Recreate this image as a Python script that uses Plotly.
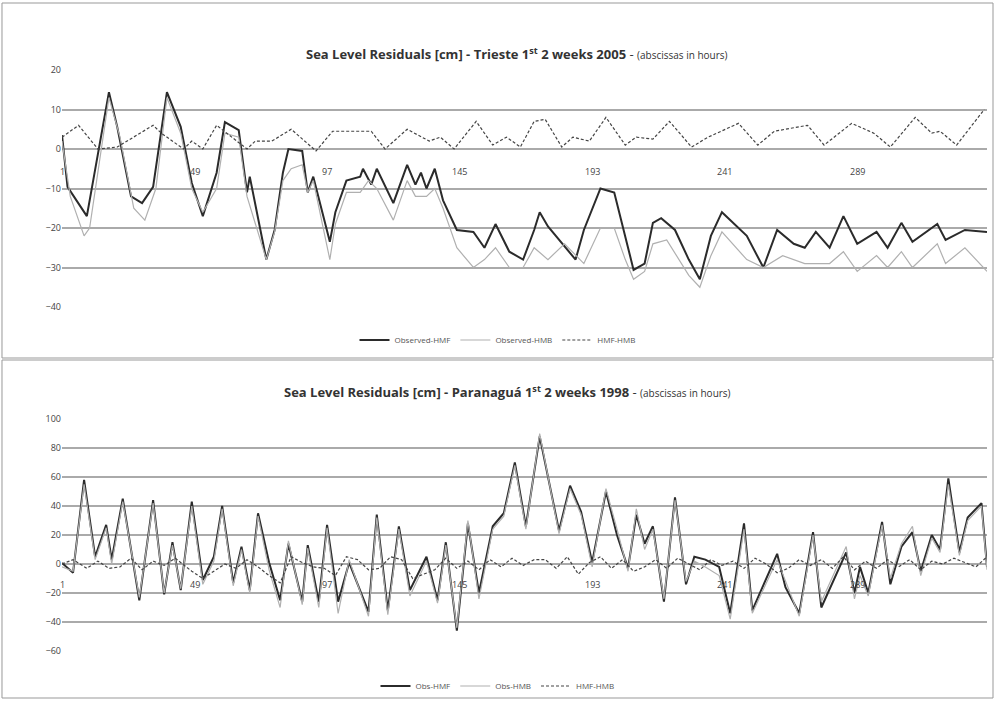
import plotly.graph_objects as go

# ---------- Top: Trieste 2005 ----------
t_hmf_h = [1,3,10,18,21,26,30,34,39,44,48,52,57,60,65,68,69,75,78,81,83,88,90,92,98,100,104,109,110,113,115,121,126,129,131,133,136,139,144,150,154,158,163,168,172,174,177,187,190,196,201,205,208,212,215,218,223,228,232,236,240,249,255,260,266,270,274,279,284,289,296,300,305,309,318,321,328,336]
t_hmf_v = [3.5,-9.6,-17,14.4,5.6,-12,-13.7,-9.6,14.4,5.6,-8.6,-17,-6,6.8,4.8,-11,-7,-28,-20.5,-6,0,-0.5,-11,-7,-23.5,-16,-8,-7,-5,-9,-5,-13.7,-4,-9,-6,-10,-5,-13,-20.5,-21,-25,-19,-26,-28,-20.5,-16,-19.6,-28,-20.5,-10,-11,-22,-30.6,-29,-18.7,-17.5,-20.5,-28,-33,-22,-16,-22,-30,-20.5,-24,-25,-21,-25,-17,-24,-21,-25,-18.7,-23.5,-19,-23,-20.5,-21]
t_hmb_h = [1,4,9,11,18,22,27,31,35,39,44,48,52,57,60,65,68,75,78,81,84,88,90,92,98,100,104,109,112,115,121,126,129,133,136,139,144,150,154,158,163,168,172,177,183,190,196,201,205,208,212,215,220,228,232,236,240,249,255,262,270,279,284,289,296,300,305,309,318,321,328,336]
t_hmb_v = [2,-12,-22,-20,13,3,-15,-18,-10,13,4,-10,-16,-10,4,3,-12,-28,-21,-8,-5,-4,-11,-8,-28,-19,-11,-11,-8,-10,-18,-8,-12,-12,-10,-15,-25,-30,-28,-25,-30,-30,-25,-28,-24,-29,-20,-20,-28,-33,-31,-24,-23,-32,-35,-27,-21,-28,-30,-27,-29,-29,-26,-31,-27,-30,-26,-30,-24,-29,-25,-31]
t_diff_h = [1,7,14,21,34,37,45,48,52,57,68,71,77,84,93,99,113,118,126,134,138,143,151,157,162,167,172,176,182,186,192,198,205,209,215,221,229,235,246,253,259,271,277,287,295,301,310,316,319,325,335]
t_diff_v = [3,6,0,0.5,6,4,0,2,0,6,0,2,2,5,-0.5,4.5,4.5,0,5,2,3,0,7,1,3,0.5,7,7.5,0.5,3,2,8,1,3,2.5,7,0.5,3,6.5,1,4.5,6,1,6.5,4,0.5,8,4,4.5,1,10]
t_ticks = [-40,-30,-20,-10,0,10,20]

# ---------- Bottom: Paranaguá 1998 ----------
b_hmf_h = [1,5,9,13,17,19,23,29,34,38,41,44,48,52,56,59,63,66,69,72,76,80,83,88,90,94,97,101,105,112,115,119,123,127,133,137,140,144,148,152,157,161,165,169,174,181,185,189,193,198,202,206,209,212,215,219,223,227,230,234,239,243,248,251,260,263,268,273,276,285,288,290,293,298,301,305,309,312,316,319,322,326,329,334,336]
b_hmf_v = [0.7,-6,58,5,27,3,45,-25,44,-21,15,-18,43,-11,5,40,-13,12,-18,35,1,-25,14,-26,13,-26,27,-26,1,-33,34,-32,26,-18,5,-25,15,-46,28,-20,26,35,70,26,88,23,54,36,1,50,20,-3,34,14,26,-26,46,-14,5,3,-2,-34,28,-32,7,-16,-34,22,-30,8,-20,-2,-20,29,-14,12,22,-5,20,10,59,8,32,42,-2]
b_hmb_h = [1,5,9,13,17,19,23,29,34,38,41,44,48,52,56,59,63,66,69,72,76,80,83,88,90,94,97,101,105,112,115,119,123,127,133,137,140,144,148,152,157,161,165,169,174,181,185,189,193,198,202,206,209,212,215,219,223,227,230,234,239,243,248,251,260,263,268,273,276,285,288,290,293,298,301,305,309,312,316,319,322,326,329,334,336]
b_hmb_v = [-2,-5,55,3,25,0,43,-23,42,-20,13,-17,40,-14,2,38,-15,10,-20,33,-4,-30,16,-28,11,-30,25,-34,3,-36,32,-35,24,-22,2,-27,13,-44,30,-24,24,33,68,24,90,21,52,34,-2,52,24,-5,38,10,24,-24,44,-12,2,-2,-8,-38,24,-34,3,-12,-36,20,-26,12,-24,-8,-22,27,-10,14,26,-8,18,8,55,6,30,40,-4]
b_diff_h = [1,5,10,14,18,22,26,30,34,38,42,48,52,56,60,64,68,72,76,80,84,88,92,96,100,104,108,112,116,120,124,128,132,136,140,144,148,152,156,160,164,168,172,176,180,184,188,192,196,200,204,208,212,216,220,224,228,232,236,240,244,248,252,256,260,264,268,272,276,280,284,288,292,296,300,304,308,312,316,320,324,328,332,336]
b_diff_v = [0,3,-3,2,-3,-2,4,-4,2,-1,4,-5,-10,-5,0,-3,3,-2,-8,-13,5,1,-2,-3,-8,5,3,-4,-3,5,3,-10,-7,-4,4,-3,2,-4,3,-2,4,-1,3,3,-3,5,-7,1,5,-3,3,-5,-2,3,-3,4,0,-4,3,-1,2,-3,4,0,-6,-3,3,-1,3,-3,5,-4,2,-3,3,-2,3,-4,2,0,4,1,-2,5]
b_ticks = [-60,-40,-20,0,20,40,60,80,100]

hour_ticks = [1,49,97,145,193,241,289]

H = 701
def fy(py): return (H - py) / H

fig = go.Figure()
def add(x, y, name, style, xa, ya, leg):
    styles = {
        "hmf": dict(color="#2b2b2b", width=2),
        "hmb": dict(color="#b0b0b0", width=1.2),
        "diff": dict(color="#444444", width=1.2, dash="3px,2px"),
    }
    fig.add_trace(go.Scatter(x=x, y=y, name=name, mode="lines", line=styles[style],
                             xaxis=xa, yaxis=ya, legend=leg))

add(t_hmf_h, t_hmf_v, "Observed-HMF", "hmf", "x", "y", "legend")
add(t_hmb_h, t_hmb_v, "Observed-HMB", "hmb", "x", "y", "legend")
add(t_diff_h, t_diff_v, "HMF-HMB", "diff", "x", "y", "legend")
add(b_hmf_h, b_hmf_v, "Obs-HMF", "hmf", "x2", "y2", "legend2")
add(b_hmb_h, b_hmb_v, "Obs-HMB", "hmb", "x2", "y2", "legend2")
add(b_diff_h, b_diff_v, "HMF-HMB", "diff", "x2", "y2", "legend2")

xd = [62/995, 987/995]
ax = dict(range=[1, 336], showgrid=False, zeroline=False, showticklabels=False, showline=False)
fig.update_layout(
    width=995, height=701, margin=dict(l=0, r=0, t=0, b=0, autoexpand=False),
    paper_bgcolor="white", plot_bgcolor="white",
    font=dict(family="Open Sans, DejaVu Sans", size=9, color="#555"),
    xaxis=dict(domain=xd, anchor="y", **ax),
    xaxis2=dict(domain=xd, anchor="y2", **ax),
    yaxis=dict(domain=[fy(307), fy(70)], range=[-40, 20], tickvals=t_ticks,
               showgrid=True, gridcolor="#aaaaaa", gridwidth=1.5, zeroline=False,
               ticks="", tickfont=dict(size=9, color="#444")),
    yaxis2=dict(domain=[fy(651), fy(419)], range=[-60, 100], tickvals=b_ticks,
                showgrid=True, gridcolor="#aaaaaa", gridwidth=1.5, zeroline=False,
                ticks="", tickfont=dict(size=9, color="#444")),
    legend=dict(orientation="h", x=0.5, xanchor="center", y=fy(340), yanchor="middle",
                font=dict(size=8, color="#555"), bgcolor="rgba(0,0,0,0)"),
    legend2=dict(orientation="h", x=0.5, xanchor="center", y=fy(686), yanchor="middle",
                 font=dict(size=8, color="#555"), bgcolor="rgba(0,0,0,0)"),
)
for h in hour_ticks:
    fig.add_annotation(x=h, y=0, xref="x", yref="y", text=str(h), showarrow=False,
                       yanchor="top", yshift=-14, font=dict(size=9, color="#444"))
    fig.add_annotation(x=h, y=0, xref="x2", yref="y2", text=str(h), showarrow=False,
                       yanchor="top", yshift=-12, font=dict(size=9, color="#444"))

fig.add_annotation(x=0.52, y=fy(42), xref="paper", yref="paper", showarrow=False,
                   text="<b>Sea Level Residuals [cm] - Trieste 1<sup>st</sup> 2 weeks 2005</b> - <span style='font-size:10px'>(abscissas in hours)</span>",
                   font=dict(size=13, color="#333"))
fig.add_annotation(x=0.51, y=fy(391), xref="paper", yref="paper", showarrow=False,
                   text="<b>Sea Level Residuals [cm] - Paranaguá 1<sup>st</sup> 2 weeks 1998</b> - <span style='font-size:10px'>(abscissas in hours)</span>",
                   font=dict(size=13, color="#333"))
fig.add_shape(type="rect", xref="paper", yref="paper", x0=0.002, x1=0.998, y0=fy(358), y1=fy(3),
              line=dict(color="#999", width=1))
fig.add_shape(type="rect", xref="paper", yref="paper", x0=0.002, x1=0.998, y0=fy(698), y1=fy(360),
              line=dict(color="#999", width=1))

fig.write_html("out.html", post_script="document.body.style.margin='0';",
               config={"displayModeBar": False})
